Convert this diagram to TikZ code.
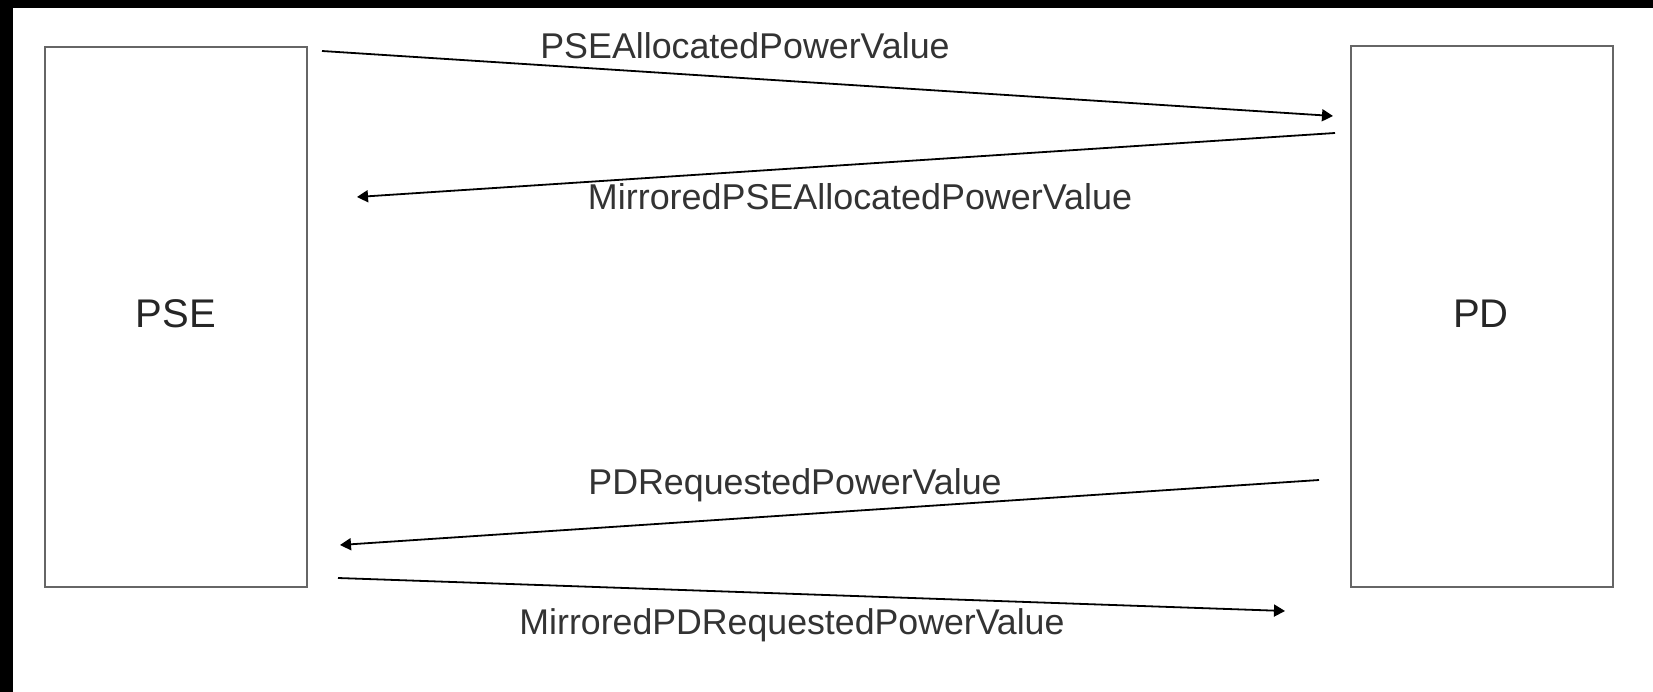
\documentclass[tikz,border=0pt]{standalone}
\usepackage{fontspec}
\setmainfont{Liberation Sans}
\usetikzlibrary{arrows.meta}
\begin{document}
\begin{tikzpicture}[x=1pt,y=-1pt,
  box/.style={draw=black!60,line width=2pt,minimum width=262pt,minimum height=540pt,inner sep=0pt},
  boxtext/.style={font=\fontsize{40}{44}\selectfont,anchor=base,inner sep=0pt,text=black!85},
  msg/.style={font=\fontsize{#1}{#1}\selectfont,anchor=base,inner sep=0pt,text=black!80},
  conn/.style={line width=1.8pt,-{Triangle[length=11pt,width=12pt]}}]
\useasboundingbox (0,0) rectangle (1653,692);
\fill[white] (0,0) rectangle (1653,692);
\fill[black] (0,0) rectangle (1653,8);
\fill[black] (0,0) rectangle (13,692);
% boxes
\node[box] (pse) at (176,317) {};
\node[box] (pd) at (1481.5,316.5) {};
\node[boxtext] (psel) at (176,327) {PSE};
\node[boxtext] (pdl) at (1481,327) {PD};
% connector end points
\coordinate (a1s) at (322,51);  \coordinate (a1e) at (1333,116);
\coordinate (a2s) at (1335,133); \coordinate (a2e) at (357,197);
\coordinate (a3s) at (1319,480); \coordinate (a3e) at (340,545);
\coordinate (a4s) at (338,578);  \coordinate (a4e) at (1285,611);
\draw[conn] (a1s) -- (a1e);
\draw[conn] (a2s) -- (a2e);
\draw[conn] (a3s) -- (a3e);
\draw[conn] (a4s) -- (a4e);
% labels
\node[msg=35.8] (l1) at (745,59) {PSEAllocatedPowerValue};
\node[msg=35.9] (l2) at (860,210) {MirroredPSEAllocatedPowerValue};
\node[msg=35.8] (l3) at (795,494) {PDRequestedPowerValue};
\node[msg=35.7] (l4) at (792,634) {MirroredPDRequestedPowerValue};
\end{tikzpicture}
\end{document}
